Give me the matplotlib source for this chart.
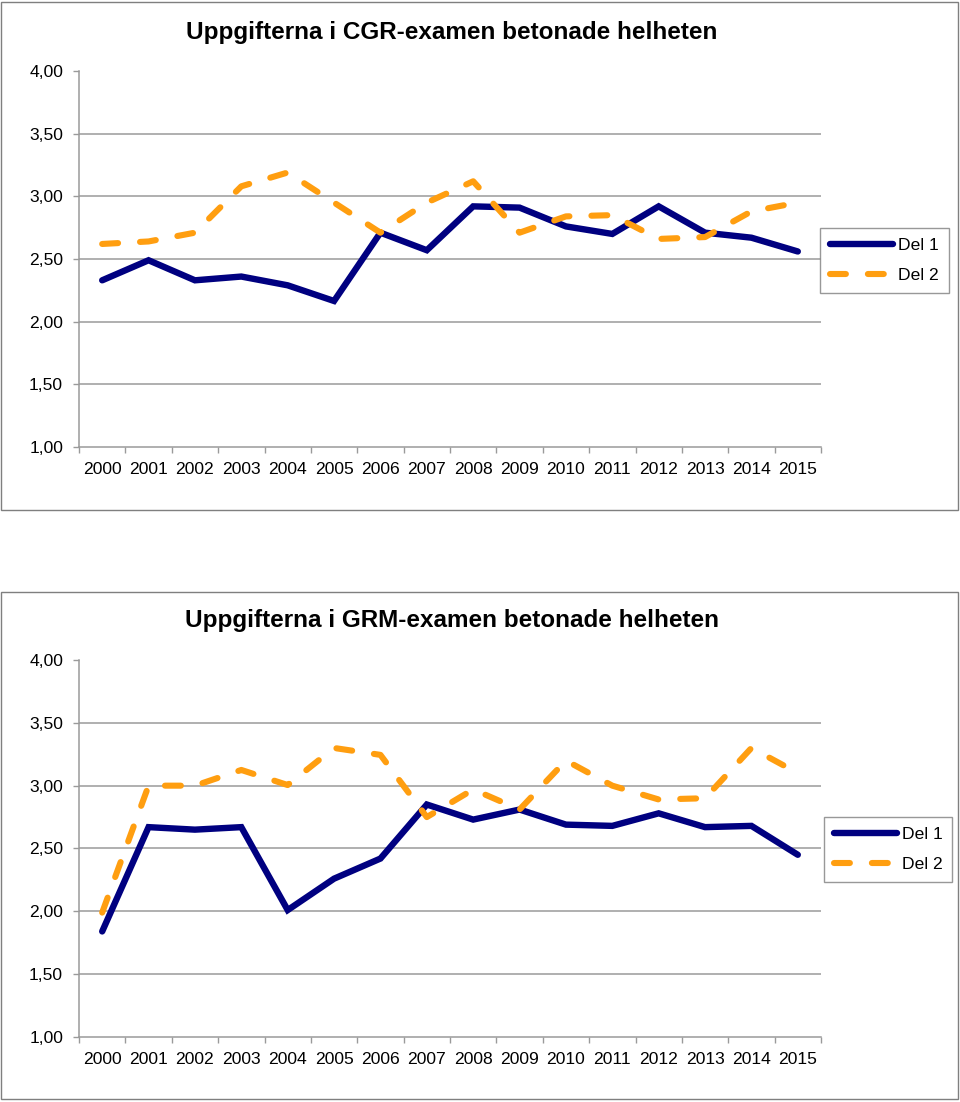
import matplotlib
matplotlib.use("Agg")
import matplotlib.pyplot as plt
from matplotlib.patches import Rectangle
from matplotlib.ticker import FixedLocator, NullFormatter

plt.rcParams['font.family'] = ['Liberation Sans', 'DejaVu Sans']

years = [str(y) for y in range(2000, 2016)]

cgr_title = "Uppgifterna i CGR-examen betonade helheten"
cgr_del1 = [2.33, 2.49, 2.33, 2.36, 2.29, 2.165, 2.71, 2.57, 2.92, 2.91, 2.76, 2.70, 2.92, 2.71, 2.67, 2.56]
cgr_del2 = [2.62, 2.64, 2.71, 3.08, 3.19, 2.95, 2.71, 2.95, 3.12, 2.71, 2.84, 2.85, 2.66, 2.675, 2.88, 2.95]

grm_title = "Uppgifterna i GRM-examen betonade helheten"
grm_del1 = [1.84, 2.67, 2.65, 2.67, 2.01, 2.26, 2.42, 2.85, 2.73, 2.81, 2.69, 2.68, 2.78, 2.67, 2.68, 2.45]
grm_del2 = [1.99, 3.00, 3.00, 3.125, 3.005, 3.30, 3.245, 2.75, 2.97, 2.81, 3.20, 3.00, 2.89, 2.90, 3.30, 3.10]

series_names = ["Del 1", "Del 2"]
yticks = [1.0, 1.5, 2.0, 2.5, 3.0, 3.5, 4.0]
ytick_labels = ["1,00", "1,50", "2,00", "2,50", "3,00", "3,50", "4,00"]

W, H = 960, 1102
fig = plt.figure(figsize=(W / 100, H / 100), dpi=100)

NAVY = "#000080"
ORANGE = "#FF9E10"
GRID = "#9a9a9a"
FS = 12.6


def px_rect(l, t, r, b):
    return [l / W, 1 - b / H, (r - l) / W, (b - t) / H]


def draw_panel(box, axrect, title, title_y, d1, d2, legrect):
    # outer border
    l, t, r, b = box
    fig.patches.append(Rectangle((l / W, 1 - b / H), (r - l) / W, (b - t) / H,
                                 transform=fig.transFigure, fill=False,
                                 edgecolor="#7f7f7f", linewidth=1.0))
    ax = fig.add_axes(px_rect(*axrect))
    x = list(range(len(years)))
    l1, = ax.plot(x, d1, color=NAVY, lw=4.6, solid_capstyle='round',
                  solid_joinstyle='miter', label=series_names[0], zorder=3)
    l2, = ax.plot(x, d2, color=ORANGE, lw=4.4, dash_capstyle='round',
                  dashes=(2.6, 3.6), label=series_names[1], zorder=3)
    ax.set_xlim(-0.5, len(years) - 0.5)
    ax.set_ylim(1.0, 4.0)
    ax.set_yticks(yticks)
    ax.set_yticklabels(ytick_labels, fontsize=FS)
    for yv in yticks[1:-1]:
        ax.axhline(yv, color=GRID, lw=1.1, zorder=1)
    ax.set_xticks(x)
    ax.set_xticklabels(years, fontsize=FS)
    ax.xaxis.set_minor_locator(FixedLocator([i - 0.5 for i in range(len(years) + 1)]))
    ax.xaxis.set_minor_formatter(NullFormatter())
    ax.tick_params(axis='x', which='major', length=0, pad=11)
    ax.tick_params(axis='x', which='minor', length=4.5, color=GRID, width=1.0)
    ax.tick_params(axis='y', which='major', length=4.5, color=GRID, width=1.0, pad=7)
    for s in ['top', 'right']:
        ax.spines[s].set_visible(False)
    for s in ['left', 'bottom']:
        ax.spines[s].set_color(GRID)
        ax.spines[s].set_linewidth(1.1)
    ax.patch.set_alpha(0)
    fig.text(452 / W, 1 - title_y / H, title, ha='center', va='center',
             fontsize=17.5, fontweight='bold')
    ll, lt, lr, lb = legrect
    leg = fig.legend(handles=[l1, l2], loc='center',
                     bbox_to_anchor=((ll + lr) / 2 / W, 1 - (lt + lb) / 2 / H),
                     fontsize=FS, frameon=True, fancybox=False, shadow=False,
                     handlelength=3.6, handletextpad=0.3, labelspacing=0.85,
                     borderpad=0.55, borderaxespad=0)
    leg.get_frame().set_edgecolor("#7f7f7f")
    leg.get_frame().set_linewidth(1.0)
    return ax


draw_panel((1, 2, 958, 510), (79, 71, 821, 447), cgr_title, 32,
           cgr_del1, cgr_del2, (822, 228, 947, 293))
draw_panel((1, 592, 958, 1099), (79, 660, 821, 1037), grm_title, 621,
           grm_del1, grm_del2, (829, 817, 947, 882))

fig.savefig("out.png", dpi=100)
